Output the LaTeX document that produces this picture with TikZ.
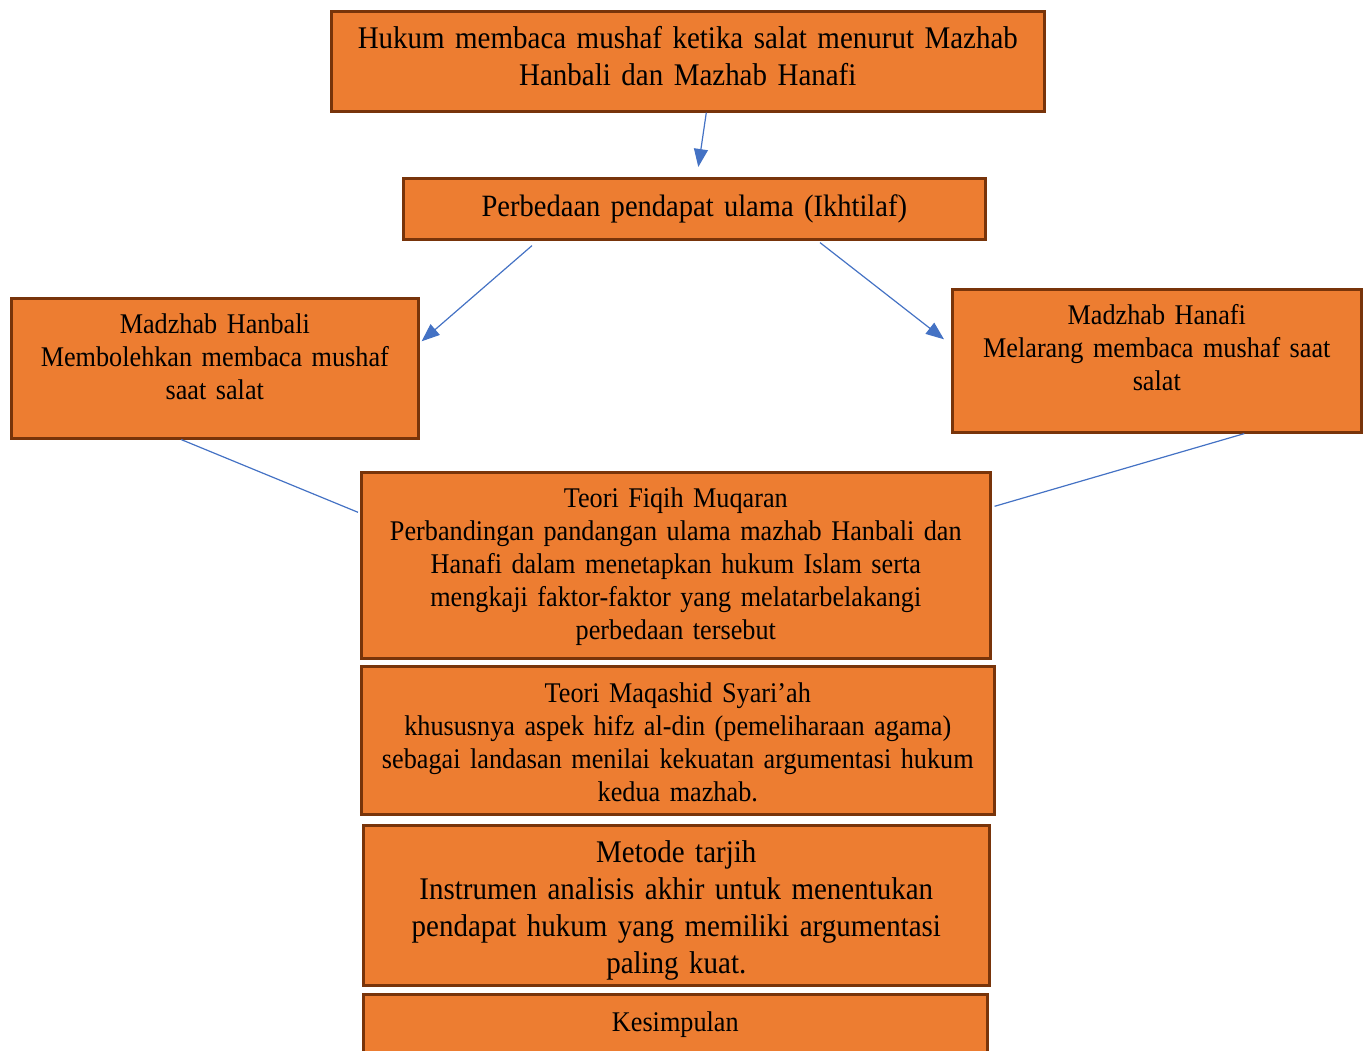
\documentclass[tikz,border=0pt]{standalone}
\usepackage{fontspec}
\setmainfont{Liberation Serif}[FakeStretch=0.92,WordSpace=0.8]
\usetikzlibrary{arrows.meta}
\definecolor{fcol}{RGB}{237,125,49}
\definecolor{lcol}{RGB}{120,52,10}
\definecolor{acol}{RGB}{68,114,196}
\tikzset{every picture/.style={x=1pt,y=-1pt}}
\tikzset{box/.style={draw=lcol,fill=fcol,line width=2.6pt,align=center,inner sep=0pt,anchor=north west,text=black,font={\fontsize{28.5}{33}\selectfont}}}
\tikzset{bigbox/.style={box,font={\fontsize{31.5}{37}\selectfont}}}
\tikzset{edge/.style={acol,line width=1.2pt,-{Triangle[length=18pt,width=14pt]}}}
\tikzset{link/.style={acol,line width=1.2pt}}
\begin{document}
\begin{tikzpicture}
\useasboundingbox (0,0) rectangle (1365,1050);
\node [bigbox,text width=713pt,text height=37pt,text depth=63pt] (hukum) at (330,10)
  {Hukum membaca mushaf ketika salat menurut Mazhab\\Hanbali dan Mazhab Hanafi};
\node [box,font={\fontsize{31}{36}\selectfont},text width=582pt,text height=38.5pt,text depth=22.5pt] (ikh) at (402,177)
  {Perbedaan pendapat ulama (Ikhtilaf)};
\node [box,text width=407pt,text height=35pt,text depth=105pt] (hanbali) at (10,297)
  {Madzhab Hanbali\\Membolehkan membaca mushaf\\saat salat};
\node [box,text width=409pt,text height=35pt,text depth=108pt] (hanafi) at (951,288)
  {Madzhab Hanafi\\Melarang membaca mushaf saat\\salat};
\node [box,text width=629pt,text height=35pt,text depth=151pt] (fiqih) at (360,471)
  {Teori Fiqih Muqaran\\Perbandingan pandangan ulama mazhab Hanbali dan\\Hanafi dalam menetapkan hukum Islam serta\\mengkaji faktor-faktor yang melatarbelakangi\\perbedaan tersebut};
\node [box,text width=633pt,text height=36pt,text depth=112pt] (maqashid) at (360,665)
  {Teori Maqashid Syari’ah\\khususnya aspek hifz al-din (pemeliharaan agama)\\sebagai landasan menilai kekuatan argumentasi hukum\\kedua mazhab.};
\node [bigbox,text width=626pt,text height=37pt,text depth=123pt] (tarjih) at (362,824)
  {Metode tarjih\\Instrumen analisis akhir untuk menentukan\\pendapat hukum yang memiliki argumentasi\\paling kuat.};
\node [box,text width=624pt,text height=37pt,text depth=40pt] (simpul) at (362,993)
  {Kesimpulan};

\draw [edge] ([xshift=18.5pt]hukum.south) -- ([xshift=4pt,yshift=10pt]ikh.north);
\draw [edge] ([xshift=130pt,yshift=-5pt]ikh.south west) -- ([xshift=2pt,yshift=27pt]hanbali.east);
\draw [edge] ([xshift=418pt,yshift=-2pt]ikh.south west) -- ([xshift=-7pt,yshift=21.5pt]hanafi.west);

\draw [link] ([xshift=-33.5pt]hanbali.south) -- ([xshift=-2pt,yshift=53pt]fiqih.west);
\draw [link] ([xshift=87.5pt]hanafi.south) -- ([xshift=3pt,yshift=59pt]fiqih.east);
\end{tikzpicture}
\end{document}
